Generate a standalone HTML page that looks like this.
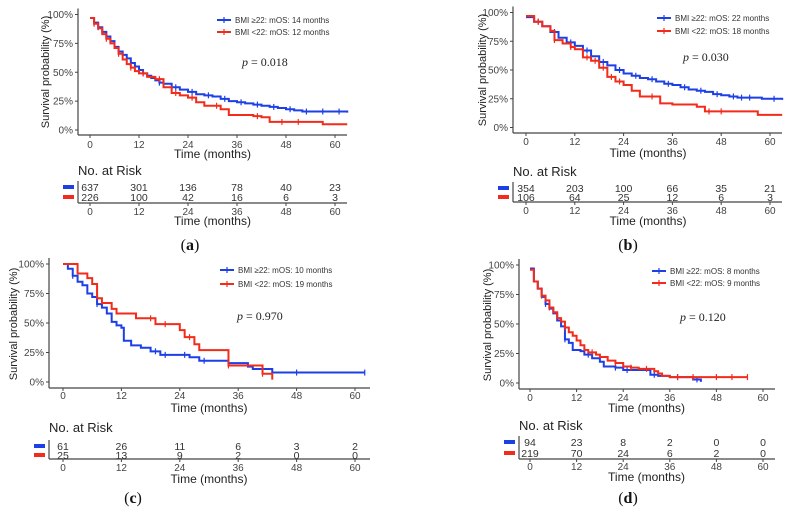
<!DOCTYPE html>
<html><head><meta charset="utf-8">
<style>
html,body{margin:0;padding:0;background:#fff;}
svg{display:block;font-family:"Liberation Sans",sans-serif;}
</style></head>
<body>
<svg id="c" width="791" height="513" viewBox="0 0 791 513"></svg>
<script>
// ---- data ----
const ticks = [0,12,24,36,48,60];
const yTicks = [0,25,50,75,100];
const yTickLabels = ["0%","25%","50%","75%","100%"];
const panelLabels = ["(a)","(b)","(c)","(d)"];
const pValues = ["0.018","0.030","0.970","0.120"];
const legendBlue = ["BMI \u226522: mOS: 14 months","BMI \u226522: mOS: 22 months","BMI \u226522: mOS: 10 months","BMI \u226522: mOS: 8 months"];
const legendRed = ["BMI <22: mOS: 12 months","BMI <22: mOS: 18 months","BMI <22: mOS: 19 months","BMI <22: mOS: 9 months"];
const riskBlue = [[637,301,136,78,40,23],[354,203,100,66,35,21],[61,26,11,6,3,2],[94,23,8,2,0,0]];
const riskRed = [[226,100,42,16,6,3],[106,64,25,12,6,3],[25,13,9,2,0,0],[219,70,24,6,2,0]];

const aBlueT=[0,1,2,3,4,5,6,7,8,9,10,11,12,13,14,15,16,17,18,20,22,24,26,28,30,32,34,36,38,40,42,44,46,48,50,52,55,63];
const aBlueS=[97,93,89,85,81,77,72,68,65,62,58,55,52,49,47,45,43,41,40,37,35,33,31,30,29,27,25,24,23,22,21,20,19,18,17,16,16,15];
const aRedT=[0,1,2,3,4,5,6,7,8,9,10,11,12,14,16,18,20,22,24,26,28,32,34,40,42,44,56,57,63];
const aRedS=[97,92,88,83,79,75,71,66,61,57,54,51,49,46,44,37,32,30,28,24,21,18,13,12,11,7,7,5,5];
const bBlueT=[0,2,4,6,8,10,12,14,16,18,20,22,24,26,28,30,32,34,36,38,40,42,44,46,48,50,52,56,58,63];
const bBlueS=[96,92,88,83,78,74,71,67,62,57,54,50,47,45,43,42,40,38,37,35,33,32,31,29,28,27,26,26,25,24];
const bRedT=[0,2,4,6,7,9,11,12,14,16,18,20,22,24,26,28,33,36,42,44,56,57,63];
const bRedS=[97,92,88,84,76,73,70,68,61,58,52,44,40,37,32,27,21,20,18,14,14,11,11];
const cBlueT=[0,1,2,3,4,5,6,7,8,9,10,11,12,12.5,14,16,18,20,24,26,28,34,38,39,43,62];
const cBlueS=[100,96,90,85,82,75,72,66,63,58,51,48,46,35,31,29,26,23,23,21,18,16,13,11,8,8];
const cRedT=[0,3,5,6,7,8,10,11,15,19,24,25,27,28,34,40,41,43];
const cRedS=[100,92,88,83,71,67,62,58,54,49,44,38,32,27,14,14,7,2];
const dBlueT=[0,1,2,3,4,5,6,7,8,9,10,11,13,14,16,18,19,22,24,28,30,31,33,36,42,44];
const dBlueS=[97,86,80,73,67,63,59,53,48,37,34,28,27,24,21,18,14,13,11,11,11,7,6,5,3,1];
const dRedT=[0,1,2,3,4,5,6,7,8,9,10,11,12,13,14,15,17,18,20,22,24,26,28,32,33,34,36,56];
const dRedS=[96,86,80,74,70,64,60,55,52,47,43,40,36,32,28,26,24,22,19,17,14,13,12,10,8,6,5,5];
const blueT=[aBlueT,bBlueT,cBlueT,dBlueT], blueS=[aBlueS,bBlueS,cBlueS,dBlueS];
const redT=[aRedT,bRedT,cRedT,dRedT], redS=[aRedS,bRedS,cRedS,dRedS];
const blueCens=[[2,5,9,13,17,21,25,29,33,37,41,45,49,53,57,61],[3,7,11,15,19,23,27,31,35,39,43,47,51,53,55,61],[2,7,19,21,25,29,48,62],[4,9,15,22,25,32,38,43]];
const redCens=[[1,4,7,10,13,17,21,25,31,41,47,51],[3,7,11,15,17,19,21,23,31,45,48],[18,21,26,34,41],[3,5,9,16,22,26,30,38,42,48,52,56]];

// ---- layout (not data) ----
const L=[
 {ax:78,x0:90,x60:335,xe:347,y100:14.5,y0:130,ay:135,tk:148,tt:158,nr:175,r1:191,r2:201,ly:203,tk2:215,tt2:225,lab:[190,250],lg:[217,20,32],p:[242,66],yt:[49,72]},
 {ax:513,x0:526,x60:770,xe:782,y100:12.5,y0:127.5,ay:133,tk:145,tt:157,nr:176,r1:192,r2:201,ly:202,tk2:214,tt2:225,lab:[628,250],lg:[657,18,31],p:[683,61],yt:[486,70]},
 {ax:49,x0:63,x60:355,xe:370,y100:264,y0:382,ay:388,tk:399,tt:412,nr:432,r1:450,r2:459,ly:459,tk2:471,tt2:483,lab:[133,503],lg:[220,270,284],p:[237,320],yt:[17,324]},
 {ax:519,x0:530,x60:763,xe:775,y100:265,y0:383,ay:389,tk:401,tt:412,nr:430,r1:446,r2:457,ly:459,tk2:470,tt2:481,lab:[628,503],lg:[652,271,283],p:[680,321],yt:[491,325]}
];
const BLUE="#1d3fe6", RED="#f22b1b", AX="#444";
const svg=document.getElementById('c');
const NS="http://www.w3.org/2000/svg";
function mk(tag,attrs,parent,txt){const e=document.createElementNS(NS,tag);for(const k in attrs)e.setAttribute(k,attrs[k]);if(txt!==undefined)e.textContent=txt;(parent||svg).appendChild(e);return e;}

L.forEach((g,i)=>{
 const G=mk('g',{});
 
 
 const xs=t=>g.x0+(g.x60-g.x0)*t/60;
 const ys=s=>g.y0+(g.y100-g.y0)*s/100;
 const yax=mk('line',{x1:g.ax,y1:g.y100-6,x2:g.ax,y2:g.ay,stroke:AX,'stroke-width':1.2},G);
 
 
 const xax=mk('line',{x1:g.ax,y1:g.ay,x2:g.xe,y2:g.ay,stroke:AX,'stroke-width':1.2},G);
 
 
 yTicks.forEach((v,k)=>{
  mk('line',{x1:g.ax-3,x2:g.ax,y1:ys(v),y2:ys(v),stroke:AX},G);
  const t=mk('text',{x:g.ax-5,y:ys(v)+3.5,'font-size':10,fill:'#444','text-anchor':'end'},G,yTickLabels[k]);
  
  
 });
 ticks.forEach(v=>{
  mk('line',{x1:xs(v),x2:xs(v),y1:g.ay,y2:g.ay+3,stroke:AX},G);
  const t=mk('text',{x:xs(v),y:g.tk,'font-size':10,fill:'#444','text-anchor':'middle'},G,v);
  
  
  mk('line',{x1:xs(v),x2:xs(v),y1:g.ly,y2:g.ly+3,stroke:AX},G);
  const t2=mk('text',{x:xs(v),y:g.tk2,'font-size':10,fill:'#444','text-anchor':'middle'},G,v);
  
  
 });
 const xt=mk('text',{x:(g.x0+g.x60)/2,y:g.tt,'font-size':12,fill:'#222','text-anchor':'middle'},G,'Time (months)');
 
 
 const yt=mk('text',{x:0,y:0,'font-size':11,fill:'#222','text-anchor':'middle',transform:`translate(${g.yt[0]},${g.yt[1]}) rotate(-90)`},G,'Survival probability (%)');
 
 
 [[blueT[i],blueS[i],BLUE,blueCens[i],'blue'],[redT[i],redS[i],RED,redCens[i],'red']].forEach(([T,S,col,C,nm])=>{
  let d=`M${xs(T[0])},${ys(S[0])}`;
  for(let k=1;k<T.length;k++){d+=` H${xs(T[k])} V${ys(S[k])}`;}
  const p=mk('path',{d:d,fill:'none',stroke:col,'stroke-width':2},G);
  
  
  C.forEach(ct=>{
   let s=S[0];for(let k=0;k<T.length;k++){if(T[k]<=ct)s=S[k];}
   if(ct>T[T.length-1])return;
   const m=mk('line',{x1:xs(ct),x2:xs(ct),y1:ys(s)-3,y2:ys(s)+3,stroke:col,'stroke-width':1.2},G);
   
   
  });
 });
 [[BLUE,legendBlue[i],g.lg[1]],[RED,legendRed[i],g.lg[2]]].forEach(([col,txt,y])=>{
  mk('line',{x1:g.lg[0],x2:g.lg[0]+14,y1:y,y2:y,stroke:col,'stroke-width':2},G);
  mk('line',{x1:g.lg[0]+7,x2:g.lg[0]+7,y1:y-3,y2:y+3,stroke:col,'stroke-width':1.2},G);
  const t=mk('text',{x:g.lg[0]+18,y:y+3,'font-size':8,fill:'#333'},G,txt);
  
  
 });
 const pt=mk('text',{x:g.p[0],y:g.p[1],'font-size':12,fill:'#222','font-family':'Liberation Serif, serif'},G);
 
 
 mk('tspan',{'font-style':'italic'},pt,'p'); mk('tspan',{},pt,' = '+pValues[i]);
 const nr=mk('text',{x:g.ax,y:g.nr,'font-size':13,fill:'#222'},G,'No. at Risk');
 
 
 mk('line',{x1:g.ax,y1:g.r1-10,x2:g.ax,y2:g.ly,stroke:AX,'stroke-width':1.2},G);
 mk('line',{x1:g.ax,y1:g.ly,x2:g.xe,y2:g.ly,stroke:AX,'stroke-width':1.2},G);
 mk('rect',{x:g.ax-15,y:g.r1-6,width:11,height:4,fill:BLUE},G);
 mk('rect',{x:g.ax-15,y:g.r2-6,width:11,height:4,fill:RED},G);
 ticks.forEach((v,k)=>{
  const a=mk('text',{x:xs(v),y:g.r1,'font-size':10.5,fill:'#333','text-anchor':'middle'},G,riskBlue[i][k]);
  
  
  const b=mk('text',{x:xs(v),y:g.r2,'font-size':10.5,fill:'#333','text-anchor':'middle'},G,riskRed[i][k]);
  
  
 });
 const t2=mk('text',{x:(g.x0+g.x60)/2,y:g.tt2,'font-size':12,fill:'#222','text-anchor':'middle'},G,'Time (months)');
 
 
 const lb=mk('text',{x:g.lab[0],y:g.lab[1],'font-size':16,fill:'#111','text-anchor':'middle','font-family':'Liberation Serif, serif'},G);
 
 
 const s=panelLabels[i];
 mk('tspan',{},lb,'('); mk('tspan',{'font-weight':'bold'},lb,s.slice(1,-1)); mk('tspan',{},lb,')');
});
</script>
</body></html>
